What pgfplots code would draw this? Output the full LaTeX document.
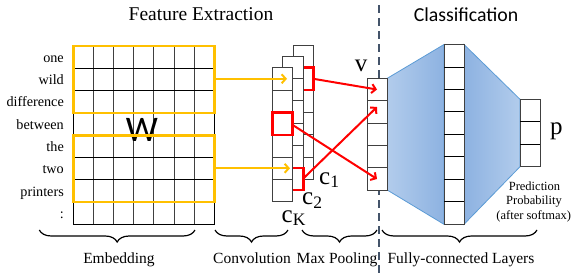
\documentclass[border=0pt]{standalone}
\usepackage{pgfplots}
\pgfplotsset{compat=1.18}
\usepackage{fontspec}
\setmainfont{Liberation Serif}
\newfontfamily\calib{Carlito}
\usetikzlibrary{decorations.pathreplacing,arrows.meta}
\definecolor{yel}{HTML}{FFC000}
\definecolor{dashc}{HTML}{44546A}
\definecolor{edge}{HTML}{404040}
\definecolor{bluel}{HTML}{B2CCEC}
\definecolor{blued}{HTML}{8DB2E1}
\definecolor{blueedge}{HTML}{5B9BD5}
\begin{document}
\begin{tikzpicture}
\begin{axis}[width=572pt,height=273pt,scale only axis,
  xmin=0,xmax=572,ymin=0,ymax=273,y dir=reverse,hide axis,clip=false]
\addplot[draw=none] coordinates {(0,0) (572,273)};
% titles
\node[inner sep=0pt,font=\fontsize{19.5}{22}\selectfont] at (201,14.5) {Feature Extraction};
\node[inner sep=0pt,font=\calib\fontsize{19.8}{22}\selectfont] at (466,15) {Classification};
% dashed separator
\draw[dashc,line width=1.8pt,dash pattern=on 8pt off 5pt] (379,5) -- (379,273);
% word labels
\begin{scope}[every node/.style={inner sep=0pt,anchor=base east,font=\fontsize{14.2}{16}\selectfont}]
\node at (64,62.2) {one};
\node at (64,84.5) {wild};
\node at (64,106.8) {difference};
\node at (64,129.1) {between};
\node at (64,151.4) {the};
\node at (64,173.7) {two};
\node at (64,196) {printers};
\node at (64,218.3) {:};
\end{scope}
% embedding grid
\draw[black!75,line width=0.9pt] (93.4,46) -- (93.4,224.4) (113.6,46) -- (113.6,224.4)
  (133.7,46) -- (133.7,224.4) (153.9,46) -- (153.9,224.4) (174.0,46) -- (174.0,224.4)
  (194.1,46) -- (194.1,224.4);
\draw[black,line width=0.9pt] (73.3,68.3) -- (214.3,68.3) (73.3,90.6) -- (214.3,90.6)
  (73.3,112.9) -- (214.3,112.9) (73.3,135.2) -- (214.3,135.2) (73.3,157.5) -- (214.3,157.5)
  (73.3,179.8) -- (214.3,179.8) (73.3,202.1) -- (214.3,202.1);
\draw[black,line width=0.9pt] (73.3,46) rectangle (214.3,224.4);
\node[inner sep=0pt,font=\calib\fontsize{36}{38}\selectfont,text=black,draw=none] at (142,130) {W};
\draw[yel,line width=2.6pt] (73.3,46) rectangle (214.3,112.9);
\draw[yel,line width=2.6pt] (73.3,135.2) rectangle (214.3,202.1);
% conv columns: back (c1)
\filldraw[fill=white,draw=edge,line width=1pt] (293.3,45.3) rectangle (313.3,179.4);
\draw[edge,line width=1pt] (293.3,67.65) -- (313.3,67.65) (293.3,90) -- (313.3,90)
  (293.3,112.35) -- (313.3,112.35) (293.3,134.7) -- (313.3,134.7) (293.3,157.05) -- (313.3,157.05);
\draw[red,line width=2.5pt] (293.3,67.65) rectangle (313.3,90);
% middle (c2)
\filldraw[fill=white,draw=edge,line width=1pt] (282.3,56) rectangle (303.3,190.1);
\draw[edge,line width=1pt] (282.3,78.35) -- (303.3,78.35) (282.3,100.7) -- (303.3,100.7)
  (282.3,123.05) -- (303.3,123.05) (282.3,145.4) -- (303.3,145.4) (282.3,167.75) -- (303.3,167.75);
\draw[red,line width=2.5pt] (282.3,167.75) rectangle (303.3,190.1);
% front (cK)
\filldraw[fill=white,draw=edge,line width=1pt] (272.3,67.7) rectangle (292.7,201.8);
\draw[edge,line width=1pt] (272.3,90.05) -- (292.7,90.05) (272.3,112.4) -- (292.7,112.4)
  (272.3,134.75) -- (292.7,134.75) (272.3,157.1) -- (292.7,157.1) (272.3,179.45) -- (292.7,179.45);
\draw[red,line width=2.5pt] (272.3,112.4) rectangle (292.7,134.75);
% yellow arrows
\draw[yel,line width=2pt,-{Straight Barb[length=4pt,width=9pt]}] (216,78.8) -- (287,78.8);
\draw[yel,line width=2pt,-{Straight Barb[length=4pt,width=9pt]}] (216,168.3) -- (290,168.3);
% labels c
\node[inner sep=0pt,anchor=base west,font=\fontsize{25}{27}\selectfont] at (319,184) {c\textsubscript{1}};
\node[inner sep=0pt,anchor=base west,font=\fontsize{25}{27}\selectfont] at (302,204.5) {c\textsubscript{2}};
\node[inner sep=0pt,anchor=base west,font=\fontsize{25}{27}\selectfont] at (281.5,222) {c\textsubscript{K}};
% trapezoids
\shade[left color=bluel,right color=blued] (387.3,78.3) -- (444,44.5) -- (444,224.3) -- (387.3,190.05) -- cycle;
\draw[blueedge,line width=0.8pt] (387.3,78.3) -- (444,44.5) -- (444,224.3) -- (387.3,190.05) -- cycle;
\shade[left color=blued,right color=bluel] (464,44.5) -- (520,99.3) -- (520,166.7) -- (464,224.3) -- cycle;
\draw[blueedge,line width=0.8pt] (464,44.5) -- (520,99.3) -- (520,166.7) -- (464,224.3) -- cycle;
% v column
\filldraw[fill=white,draw=edge,line width=1pt] (367.3,78.3) rectangle (387.3,190.05);
\draw[edge,line width=1pt] (367.3,100.65) -- (387.3,100.65) (367.3,123) -- (387.3,123)
  (367.3,145.35) -- (387.3,145.35) (367.3,167.7) -- (387.3,167.7);
% hidden column
\filldraw[fill=white,draw=edge,line width=1pt] (444,44.5) rectangle (464,224.3);
\draw[black,line width=1pt] (444,67) -- (464,67) (444,89.4) -- (464,89.4) (444,111.9) -- (464,111.9)
  (444,134.4) -- (464,134.4) (444,156.9) -- (464,156.9) (444,179.3) -- (464,179.3) (444,201.8) -- (464,201.8);
% output column
\filldraw[fill=white,draw=edge,line width=1pt] (520,99.3) rectangle (540,166.7);
\draw[black,line width=1pt] (520,121.8) -- (540,121.8) (520,144.2) -- (540,144.2);
% red arrows
\draw[red,line width=2pt,-{Straight Barb[length=4pt,width=9pt]}] (313.3,78.8) -- (377,89.5);
\draw[red,line width=2pt,-{Straight Barb[length=4pt,width=9pt]}] (303.3,178.5) -- (377,107);
\draw[red,line width=2pt,-{Straight Barb[length=4pt,width=9pt]}] (292.7,125) -- (377,179);
% v, p
\node[inner sep=0pt,font=\fontsize{25}{27}\selectfont] at (361,66) {v};
\node[inner sep=0pt,font=\fontsize{25}{27}\selectfont] at (556.3,131.5) {p};
% prediction text
\begin{scope}[every node/.style={inner sep=0pt,anchor=base,font=\fontsize{12.5}{14}\selectfont}]
\node at (534.5,190) {Prediction};
\node at (534,204.5) {Probability};
\node at (533.7,219) {(after softmax)};
\end{scope}
% braces
\begin{scope}[line width=1.2pt,decoration={brace,mirror,amplitude=12pt}]
\draw[decorate] (39.3,230) -- (195,230);
\draw[decorate] (215,230) -- (288,230);
\draw[decorate] (302,230) -- (377,230);
\draw[decorate] (382,230) -- (537,230);
\end{scope}
\begin{scope}[every node/.style={inner sep=0pt,anchor=base,font=\fontsize{15.5}{17}\selectfont}]
\node at (119,263) {Embedding};
\node at (252,263) {Convolution};
\node at (337,263) {Max Pooling};
\node at (461,263) {Fully-connected Layers};
\end{scope}
\end{axis}
\pgfresetboundingbox
\path (current axis.south west) rectangle (current axis.north east);
\end{tikzpicture}
\end{document}
